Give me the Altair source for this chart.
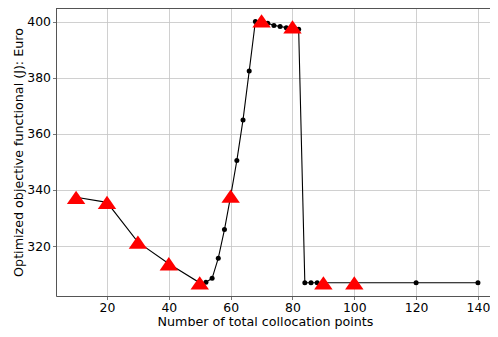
import altair as alt
import pandas as pd

# Black line with small dots
line_x = [10, 20, 30, 40, 50, 52, 54, 56, 58, 60, 62, 64, 66, 68, 70, 72, 74, 76, 78, 80,
          82, 84, 86, 88, 90, 100, 120, 140]
line_y = [337.4, 335.6, 321.4, 313.7, 306.9, 307.1, 308.5, 315.7, 325.9, 337.8, 350.5,
          365.0, 382.4, 400.1, 400.3, 399.5, 398.7, 398.3, 397.9, 398.2, 397.3, 306.9,
          306.9, 306.9, 306.9, 306.9, 306.9, 306.9]

# Red triangles
tri_x = [10, 20, 30, 40, 50, 60, 70, 80, 90, 100]
tri_y = [337.4, 335.6, 321.4, 313.7, 306.9, 337.8, 400.3, 398.2, 306.9, 306.9]

x_ticks = [20, 40, 60, 80, 100, 120, 140]
y_ticks = [320, 340, 360, 380, 400]

line_df = pd.DataFrame({"x": line_x, "y": line_y, "order": list(range(len(line_x)))})
tri_df = pd.DataFrame({"x": tri_x, "y": tri_y})

W, H = 434, 288
FONT = "DejaVu Sans"

xscale = alt.Scale(domain=[3.5, 143.9], nice=False, zero=False)
yscale = alt.Scale(domain=[302.2, 404.9], nice=False, zero=False)

xaxis = alt.Axis(values=x_ticks, title="Number of total collocation points",
                 grid=True, gridColor="#c4c4c4", gridWidth=0.8,
                 domainColor="#555555", domainWidth=1,
                 tickColor="#555555", tickSize=3.5, tickWidth=0.8,
                 labelFont=FONT, labelFontSize=12.4, labelColor="#000000", labelPadding=1.5,
                 titleFont=FONT, titleFontSize=12.7, titleFontWeight="normal",
                 titleColor="#000000", titleBaseline="alphabetic", titleY=29.5,
                 titleX=209)
yaxis = alt.Axis(values=y_ticks, title="Optimized objective functional (J): Euro",
                 grid=True, gridColor="#c4c4c4", gridWidth=0.8,
                 domainColor="#555555", domainWidth=1,
                 tickColor="#555555", tickSize=3.5, tickWidth=0.8,
                 labelFont=FONT, labelFontSize=12.4, labelColor="#000000", labelPadding=2,
                 titleFont=FONT, titleFontSize=12.7, titleFontWeight="normal",
                 titleColor="#000000", titleX=-38, titleY=H / 2,
                 titleAlign="center", titleBaseline="middle", titleAngle=270)

base = alt.Chart(line_df)

line = base.mark_line(color="black", strokeWidth=1.1).encode(
    x=alt.X("x:Q", scale=xscale, axis=xaxis),
    y=alt.Y("y:Q", scale=yscale, axis=yaxis),
    order="order:Q",
)

dots = base.mark_point(shape="circle", filled=True, color="black", size=25, opacity=1).encode(
    x=alt.X("x:Q", scale=xscale),
    y=alt.Y("y:Q", scale=yscale),
)

tris = alt.Chart(tri_df).mark_point(
    shape="M0,-0.72L1,0.72L-1,0.72Z", filled=True, color="#ff0000", size=340, opacity=1
).encode(
    x=alt.X("x:Q", scale=xscale),
    y=alt.Y("y:Q", scale=yscale),
)

top_spine = alt.Chart(tri_df).mark_rule(color="#555555", strokeWidth=1).encode(
    x=alt.value(0), x2=alt.value(W), y=alt.value(0)
)

chart = alt.layer(line, dots, tris, top_spine).properties(
    width=W, height=H,
    autosize=alt.AutoSizeParams(type="none"),
    padding={"left": 48, "top": 0, "right": 0, "bottom": 33},
).configure_view(stroke=None).configure(background="white")

chart.save("out.html", embed_options={"renderer": "svg", "actions": False})
